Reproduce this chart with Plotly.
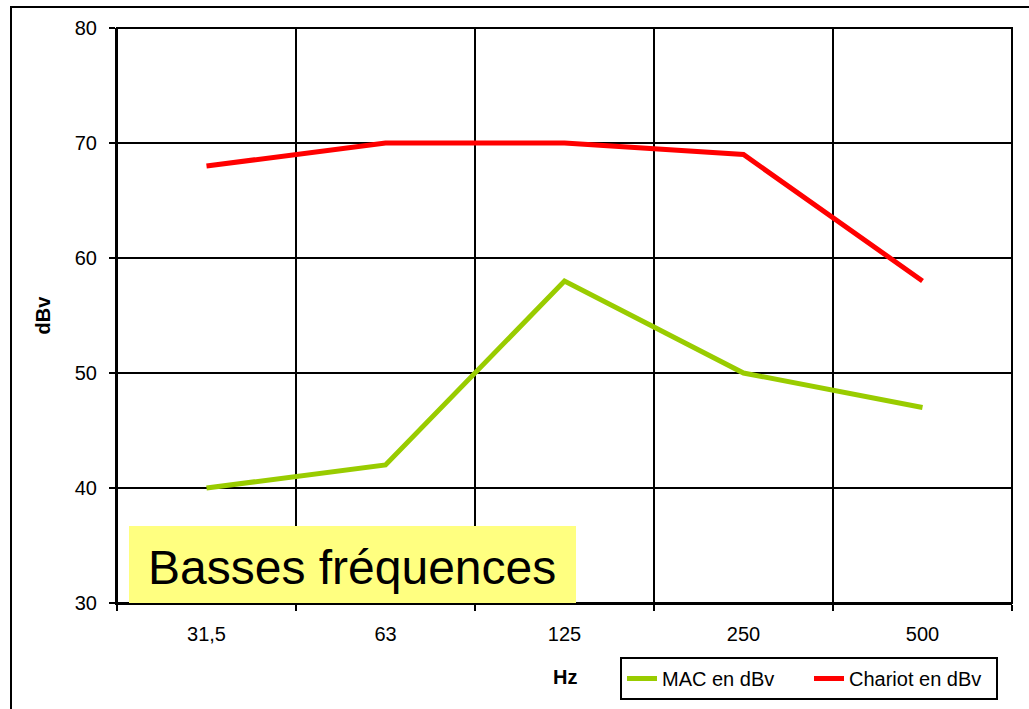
import plotly.graph_objects as go

categories = ["31,5", "63", "125", "250", "500"]
mac_values = [40, 42, 58, 50, 47]
chariot_values = [68, 70, 70, 69, 58]
y_ticks = [30, 40, 50, 60, 70, 80]

FONT = "Liberation Sans, Arial, sans-serif"
W, H = 1029, 709
L, R, T, B = 117, 17, 28, 106
PW, PH = W - L - R, H - T - B

def px(x):
    return (x - L) / PW

def py(y):
    return (H - B - y) / PH

fig = go.Figure()
fig.add_trace(go.Scatter(x=categories, y=mac_values, mode="lines", name="MAC en dBv",
                         line=dict(color="#99CC00", width=5)))
fig.add_trace(go.Scatter(x=categories, y=chariot_values, mode="lines", name="Chariot en dBv",
                         line=dict(color="#FF0000", width=5)))

fig.update_layout(
    width=W, height=H,
    margin=dict(l=L, r=R, t=T, b=B, autoexpand=False),
    paper_bgcolor="white", plot_bgcolor="white",
    font=dict(family=FONT, size=20, color="black"),
    showlegend=True,
    legend=dict(orientation="h", x=px(620), y=py(657), xanchor="left", yanchor="top",
                bordercolor="black", borderwidth=2, bgcolor="white",
                font=dict(size=20), itemwidth=30, tracegroupgap=0, entrywidth=142),
    xaxis=dict(type="category", range=[-0.5, 4.5], tickson="boundaries", automargin=False,
               showgrid=True, gridcolor="black", gridwidth=2,
               showline=True, linecolor="black", linewidth=2,
               ticks="outside", ticklen=6, tickwidth=2, tickcolor="black",
               ticklabelstandoff=12, tickfont=dict(size=20), zeroline=False),
    yaxis=dict(range=[30, 80], tickvals=y_ticks, showgrid=True, gridcolor="black", gridwidth=2,
               automargin=False,
               showline=True, linecolor="black", linewidth=2, mirror=False,
               ticks="outside", ticklen=6, tickwidth=2, tickcolor="black",
               ticklabelstandoff=8, tickfont=dict(size=20), zeroline=False,
               title=dict(text="<b>dBv</b>", font=dict(size=20), standoff=19)),
)

shapes = [
    # plot area right/top border
    dict(type="rect", xref="paper", yref="paper", x0=0, x1=1, y0=0, y1=1,
         line=dict(color="black", width=2), fillcolor="rgba(0,0,0,0)", layer="above"),
    # outer chart border
    dict(type="rect", xref="paper", yref="paper", x0=px(11), x1=px(1040), y0=py(7), y1=py(720),
         line=dict(color="black", width=2), fillcolor="rgba(0,0,0,0)", layer="above"),
    # yellow label box
    dict(type="rect", xref="paper", yref="paper", x0=px(129), x1=px(576), y0=py(603), y1=py(526),
         line=dict(width=0), fillcolor="#FFFF80", layer="above"),
]
fig.update_layout(shapes=shapes)

fig.add_annotation(xref="paper", yref="paper", x=px(352), y=py(567), text="Basses fréquences",
                   showarrow=False, font=dict(size=48, color="black"), xanchor="center", yanchor="middle")
fig.add_annotation(xref="paper", yref="paper", x=px(565), y=py(677), text="<b>Hz</b>",
                   showarrow=False, font=dict(size=20, color="black"), xanchor="center", yanchor="middle")

fig.write_html("out.html")
